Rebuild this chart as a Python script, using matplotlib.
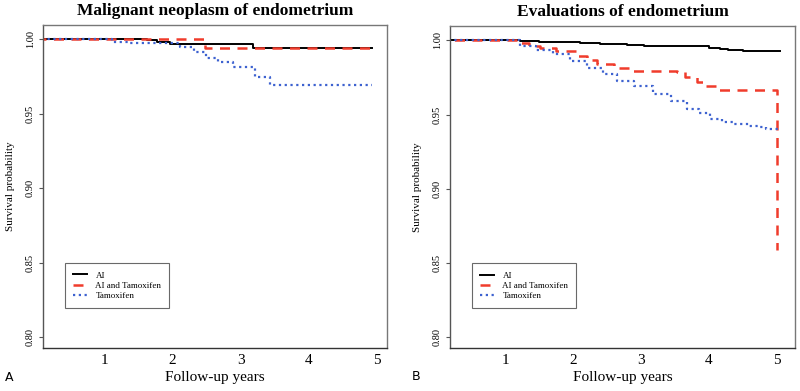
import matplotlib
matplotlib.use("Agg")
import matplotlib.pyplot as plt

plt.rcParams['font.family'] = ['Liberation Serif', 'DejaVu Serif']

# Panel A: malignant neoplasm of endometrium
a_ai_t = [0, 1.62, 1.77, 1.96, 3.19, 4.93]
a_ai_s = [1.0, 0.9995, 0.9984, 0.9968, 0.9944, 0.9944]
a_combo_t = [0, 2.48, 4.93]
a_combo_s = [1.0, 0.9944, 0.9944]
a_tam_t = [0, 1.11, 1.35, 2.11, 2.31, 2.50, 2.67, 2.89, 3.21, 3.43, 4.93]
a_tam_s = [1.0, 0.9984, 0.9973, 0.995, 0.9917, 0.9872, 0.985, 0.9817, 0.9745, 0.9693, 0.9693]

# Panel B: evaluations of endometrium
b_ai_t = [0, 1.22, 1.5, 1.8, 2.1, 2.4, 2.8, 3.04, 3.6, 4.0, 4.17, 4.29, 4.5, 5.05]
b_ai_s = [1.0, 0.9995, 0.999, 0.9985, 0.998, 0.9975, 0.997, 0.996, 0.9958, 0.995, 0.9944, 0.9935, 0.9928, 0.9928]
b_combo_t = [0, 1.22, 1.35, 1.52, 1.75, 2.06, 2.2, 2.35, 2.6, 2.84, 3.2, 3.53, 3.65, 3.82, 3.95, 4.12, 5.0, 5.0]
b_combo_s = [1.0, 0.998, 0.9962, 0.995, 0.9925, 0.9895, 0.9865, 0.9839, 0.981, 0.9794, 0.979, 0.9783, 0.975, 0.9716, 0.969, 0.9664, 0.9664, 0.8587]
b_tam_t = [0, 1.22, 1.45, 1.71, 1.95, 2.20, 2.45, 2.65, 2.9, 3.18, 3.45, 3.68, 3.85, 4.02, 4.2, 4.36, 4.6, 4.76, 4.85, 5.02]
b_tam_s = [1.0, 0.996, 0.9935, 0.9906, 0.986, 0.9816, 0.977, 0.9727, 0.969, 0.9638, 0.959, 0.9537, 0.951, 0.947, 0.945, 0.9436, 0.9425, 0.9414, 0.9403, 0.9403]

titles = ['Malignant neoplasm of endometrium', 'Evaluations of endometrium']
panel_letters = ['A', 'B']
group_names = ['AI', 'AI and Tamoxifen', 'Tamoxifen']
x_ticks = [1, 2, 3, 4, 5]
y_ticks = [0.80, 0.85, 0.90, 0.95, 1.00]

W, H = 800, 391
fig = plt.figure(figsize=(W / 100, H / 100), dpi=100)


def px_axes(x0, y0, x1, y1):
    # 픽셀 좌표(위쪽 기준)로 축 위치 지정
    return fig.add_axes([x0 / W, 1 - y1 / H, (x1 - x0) / W, (y1 - y0) / H])


def draw_panel(ax, curves, title, letter, xlim):
    styles = [
        dict(color='black', linestyle='-', linewidth=1.4),
        dict(color='#f03c2c', linestyle=(0, (4, 3)), linewidth=1.8),
        dict(color='#3d62d0', linestyle=(0, (1, 1.6)), linewidth=1.6),
    ]
    for (t, s), st, name in zip(curves, styles, group_names):
        ax.plot(t, s, drawstyle='steps-post', label=name, **st)

    ax.set_xlim(*xlim)
    ax.set_ylim(0.7928, 1.0096)
    ax.set_xticks(x_ticks)
    ax.set_xticklabels([str(v) for v in x_ticks], fontsize=11)
    ax.set_yticks(y_ticks)
    ax.set_yticklabels(['%.2f' % v for v in y_ticks], fontsize=7.5,
                       rotation=90, va='center')
    ax.tick_params(axis='x', length=0, pad=4)
    ax.tick_params(axis='y', length=3, width=0.8, color='#555555', pad=3)
    for side, sp in ax.spines.items():
        sp.set_color('#777777')
        sp.set_linewidth(1.0)
    ax.spines['bottom'].set_color('#333333')
    ax.spines['left'].set_color('#555555')

    ax.set_title(title, fontsize=12.5, fontweight='bold', pad=7)
    ax.set_xlabel('Follow-up years', fontsize=11, labelpad=3)
    ax.set_ylabel('Survival probability', fontsize=8, labelpad=8)

    leg = ax.legend(loc='lower left', bbox_to_anchor=(0.05, 0.11), fontsize=6.5,
                    frameon=True, fancybox=False, handlelength=1.6,
                    borderpad=0.9, labelspacing=0.2, handletextpad=0.9)
    leg.get_frame().set_edgecolor('#444444')
    leg.get_frame().set_linewidth(0.8)

    ax.text(-0.11, -0.09, letter, transform=ax.transAxes, fontsize=9,
            family=['DejaVu Sans'], ha='left', va='center')


ax1 = px_axes(43, 25, 387, 348)
draw_panel(ax1, [(a_ai_t, a_ai_s), (a_combo_t, a_combo_s), (a_tam_t, a_tam_s)],
           titles[0], panel_letters[0], (0.10, 5.15))

ax2 = px_axes(450, 26, 795, 348)
draw_panel(ax2, [(b_ai_t, b_ai_s), (b_combo_t, b_combo_s), (b_tam_t, b_tam_s)],
           titles[1], panel_letters[1], (0.19, 5.27))

fig.savefig('out.png', dpi=100)
